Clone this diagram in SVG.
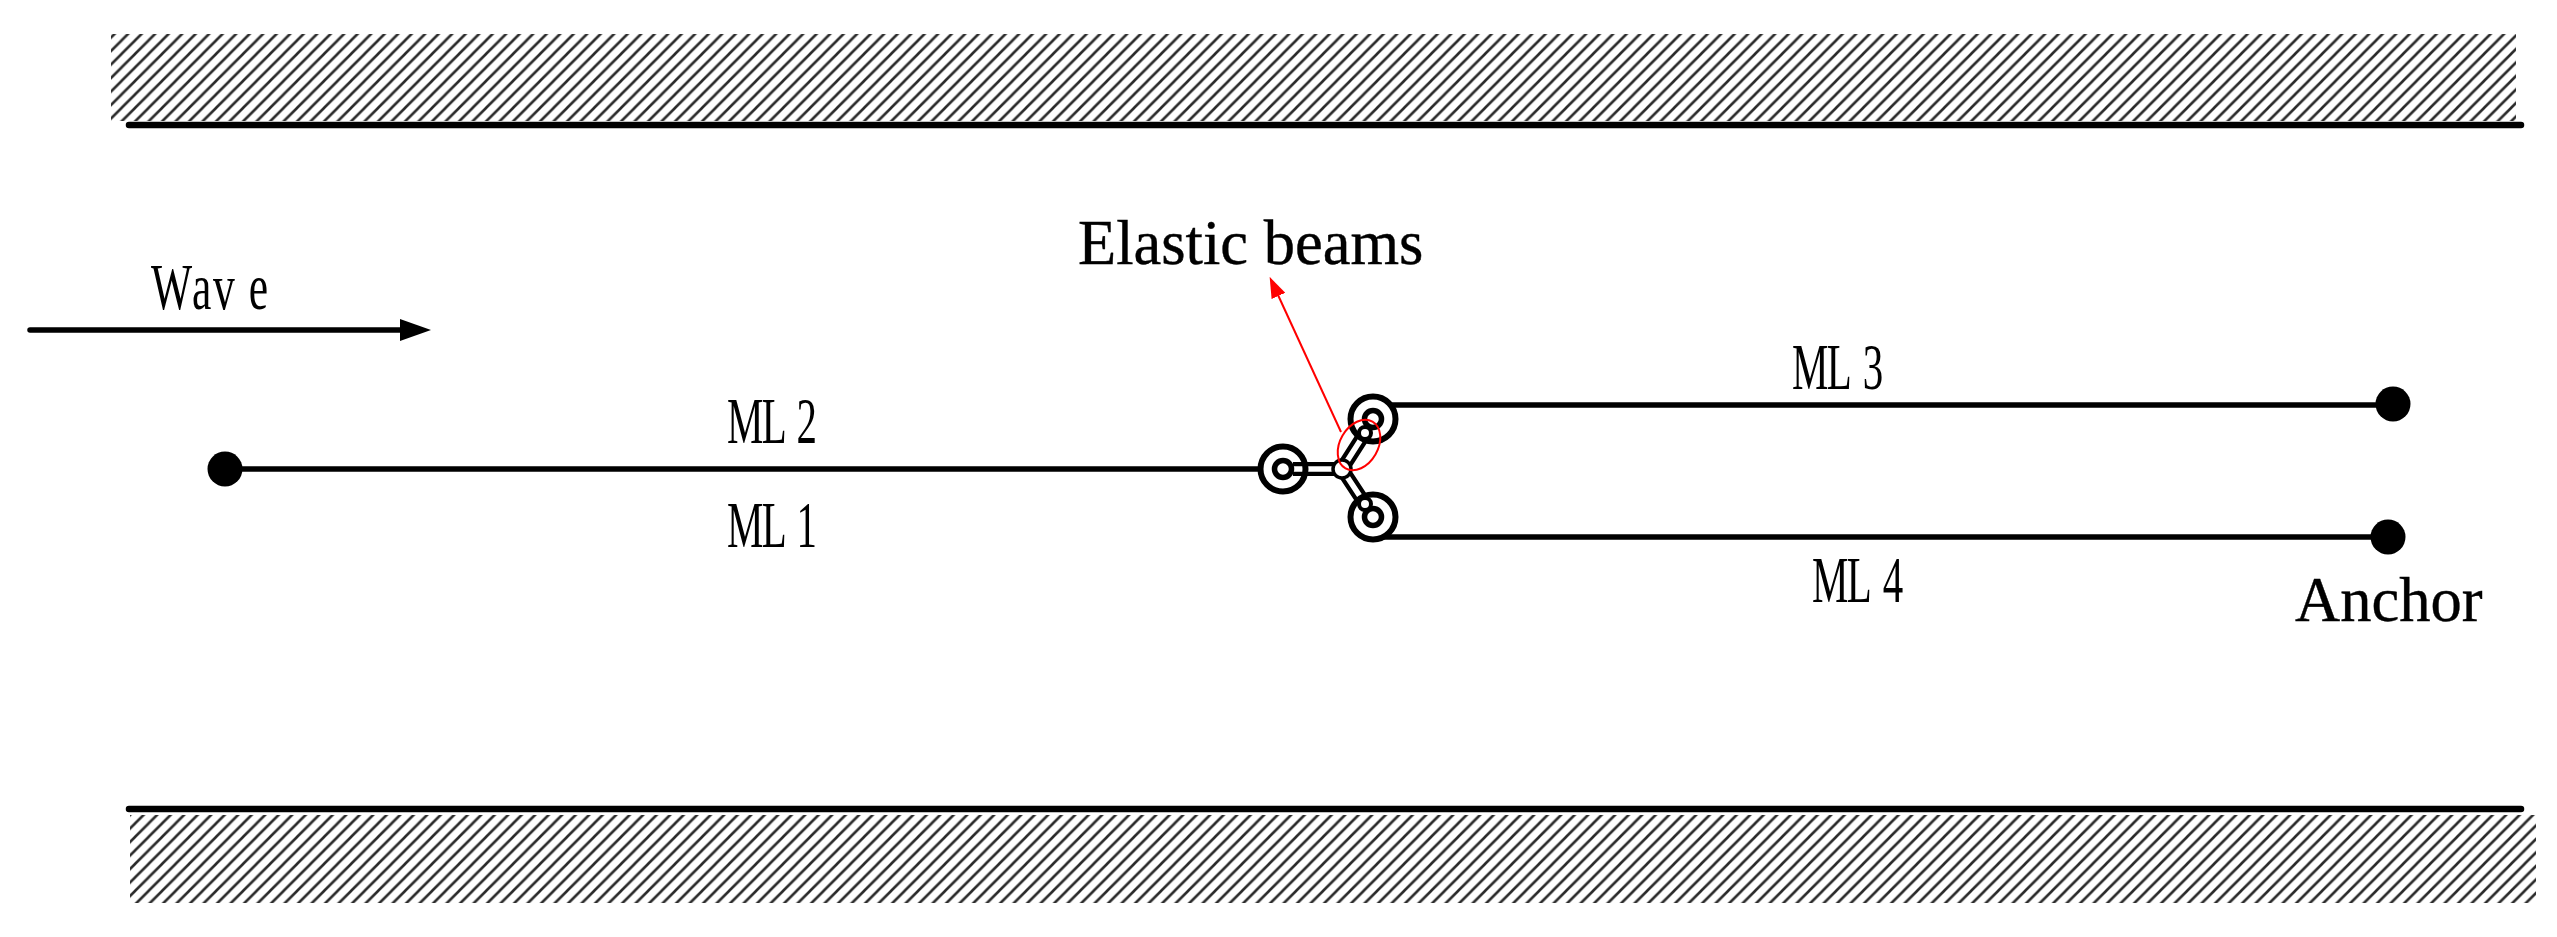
<svg xmlns="http://www.w3.org/2000/svg" width="2557" height="937" viewBox="0 0 2557 937">
<style>
.wall{stroke:#000;stroke-width:6.5;stroke-linecap:round;fill:none}
.line{stroke:#000;stroke-width:5.5;fill:none}
.dot{fill:#000}
.disc{fill:#fff}
.ring{fill:none;stroke:#000;stroke-width:6}
.inner{fill:#fff;stroke:#000;stroke-width:5.5}
.sb{stroke:#000;stroke-width:14;fill:none}
.sw{stroke:#fff;stroke-width:5.5;fill:none}
.serif{font-family:"Liberation Serif",serif;font-size:62.5px;fill:#000;stroke:#000;stroke-width:.4}
.cond{font-family:"Liberation Serif",serif;font-size:66px;fill:#000}
</style>
<defs>
<pattern id="hatch" width="13.5" height="13.5" patternUnits="userSpaceOnUse">
<path d="M-3.4,3.4 L3.4,-3.4 M0,13.5 L13.5,0 M10.1,16.9 L16.9,10.1" stroke="#2a2a2a" stroke-width="2.6"/>
</pattern>
<marker id="ab" viewBox="0 0 31 22" refX="1" refY="11" markerWidth="31" markerHeight="22" markerUnits="userSpaceOnUse" orient="auto"><path d="M0,0 L31,11 L0,22 Z" fill="#000"/></marker>
<marker id="ar" viewBox="0 0 21 15" refX="1" refY="7.5" markerWidth="21" markerHeight="15" markerUnits="userSpaceOnUse" orient="auto"><path d="M0,0 L21,7.5 L0,15 Z" fill="#f00"/></marker>
</defs>
<rect width="2557" height="937" fill="#fff"/>
<g id="top-wall">
<rect x="111" y="34" width="2405" height="87" fill="url(#hatch)"/>
<line class="wall" x1="129" y1="125" x2="2521" y2="125"/>
</g>
<g id="bottom-wall">
<rect x="130" y="815" width="2406" height="88" fill="url(#hatch)"/>
<line class="wall" x1="129" y1="809" x2="2521" y2="809"/>
</g>
<g id="connectors">
<line class="line" x1="225" y1="469" x2="1262" y2="469"/>
<line class="line" x1="1380" y1="405" x2="2393" y2="405"/>
<line class="line" x1="1380" y1="537" x2="2388" y2="537"/>
<line x1="30" y1="330" x2="401" y2="330" stroke="#000" stroke-width="5.5" stroke-linecap="round" marker-end="url(#ab)"/>
<line x1="1341" y1="432" x2="1278" y2="295" stroke="#f00" stroke-width="2" marker-end="url(#ar)"/>
</g>
<g id="anchor-left"><circle class="dot" cx="225" cy="469" r="17.5"/></g>
<g id="anchor-ml3"><circle class="dot" cx="2393" cy="404" r="17.5"/></g>
<g id="anchor-ml4"><circle class="dot" cx="2388" cy="537" r="17.5"/></g>
<g id="fairlead-left"><circle class="disc" cx="1283" cy="469" r="23"/></g>
<g id="fairlead-top"><circle class="disc" cx="1373" cy="419" r="23"/></g>
<g id="fairlead-bottom"><circle class="disc" cx="1373" cy="517" r="23"/></g>
<g id="elastic-beams">
<path class="sb" d="M1293,469 H1342 L1365,433 M1342,469 L1365,504"/>
<path class="sw" d="M1293,469 H1342 L1365,433 M1342,469 L1365,504"/>
<circle cx="1342" cy="469" r="9" fill="#fff" stroke="#000" stroke-width="3.5"/>
<circle class="ring" cx="1283" cy="469" r="22.5"/><circle class="inner" cx="1283" cy="469" r="8.5"/>
<circle class="ring" cx="1373" cy="419" r="22.5"/><circle class="inner" cx="1373" cy="419" r="8.5"/>
<circle class="ring" cx="1373" cy="517" r="22.5"/><circle class="inner" cx="1373" cy="517" r="8.5"/>
<circle cx="1365" cy="433" r="6" fill="#fff" stroke="#000" stroke-width="4"/>
<circle cx="1365" cy="504" r="6" fill="#fff" stroke="#000" stroke-width="4"/>
<ellipse cx="1359" cy="445" rx="27" ry="19" transform="rotate(-60 1359 445)" fill="none" stroke="#f00" stroke-width="2"/>
</g>
<g id="labels">
<text class="cond" transform="translate(151,309) scale(.66,1)" x="0 62 94 148">Wave</text>
<text class="cond" transform="translate(727,443) scale(.62,1)" x="0 56 112">ML2</text>
<text class="cond" transform="translate(727,547) scale(.62,1)" x="0 56 112">ML1</text>
<text class="cond" transform="translate(1792,389) scale(.62,1)" x="0 56 114">ML3</text>
<text class="cond" transform="translate(1812,602) scale(.62,1)" x="0 56 114">ML4</text>
<text class="serif" x="1078" y="264">Elastic beams</text>
<text class="serif" x="2295" y="621">Anchor</text>
</g>
</svg>
